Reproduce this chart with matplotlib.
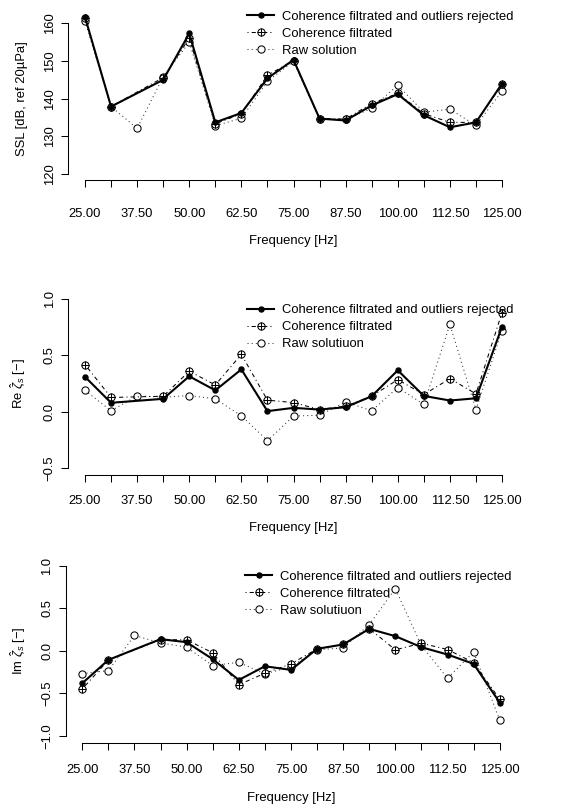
import numpy as np
import matplotlib.pyplot as plt
from matplotlib.legend_handler import HandlerTuple

plt.rcParams['font.family'] = ['Liberation Sans', 'DejaVu Sans']
plt.rcParams['mathtext.fontset'] = 'custom'
plt.rcParams['mathtext.rm'] = 'Liberation Sans'
plt.rcParams['mathtext.it'] = 'Liberation Sans:italic'

# frequencies (Hz)
freq = [25.0, 31.25, 37.5, 43.75, 50.0, 56.25, 62.5, 68.75, 75.0,
        81.25, 87.5, 93.75, 100.0, 106.25, 112.5, 118.75, 125.0]
xtick_labels = ['25.00', '', '37.50', '', '50.00', '', '62.50', '', '75.00',
                '', '87.50', '', '100.00', '', '112.50', '', '125.00']
nan = np.nan

# SSL [dB]
ssl_out = [161.7, 137.9, nan, 145.0, 157.3, 133.7, 136.2, 145.4, 150.3,
           134.7, 134.2, 138.2, 141.2, 135.6, 132.4, 133.7, 144.0]
ssl_filt = [161.3, 137.9, nan, 145.6, 156.0, 133.3, 136.0, 146.2, 150.1,
            134.7, 134.6, 138.7, 141.4, 136.0, 133.7, 133.7, 143.8]
ssl_raw = [160.6, 137.9, 132.1, 145.8, 155.0, 132.8, 134.8, 144.6, 149.9,
           134.6, 134.5, 137.4, 143.6, 136.4, 137.2, 132.9, 142.0]

# real part
re_out = [0.31, 0.08, nan, 0.115, 0.315, 0.19, 0.376, 0.006, 0.035,
          0.02, 0.041, 0.138, 0.368, 0.141, 0.10, 0.12, 0.754]
re_filt = [0.418, 0.127, nan, 0.138, 0.36, 0.238, 0.509, 0.103, 0.082,
           0.02, 0.05, 0.138, 0.285, 0.153, 0.294, 0.159, 0.88]
re_raw = [0.19, 0.009, 0.141, 0.13, 0.144, 0.115, -0.035, -0.256, -0.038,
          -0.03, 0.088, 0.009, 0.215, 0.065, 0.774, 0.02, 0.72]

# imaginary part
im_out = [-0.383, -0.108, nan, 0.136, 0.10, -0.10, -0.344, -0.183, -0.226,
          0.022, 0.073, 0.257, 0.171, 0.041, -0.045, -0.155, -0.61]
im_filt = [-0.45, -0.11, nan, 0.13, 0.128, -0.025, -0.40, -0.265, -0.155,
           0.022, 0.073, 0.26, 0.01, 0.088, 0.014, -0.14, -0.57]
im_raw = [-0.27, -0.234, 0.179, 0.092, 0.041, -0.175, -0.136, -0.273, -0.19,
          0.01, 0.033, 0.308, 0.729, 0.06, -0.324, -0.014, -0.816]

W, H = 568, 805
FS = 9.4
dotted = (0, (1, 3))
dotdash = (0, (1, 3, 4, 3))


def fig_rect(left, right, top, bottom):
    return [left / W, 1 - bottom / H, (right - left) / W, (bottom - top) / H]


def draw_panel(ax, y_out, y_filt, y_raw, raw_label, yticks, yfmt, ylabel,
               leg_px, xpad):
    x = np.array(freq)
    series = []
    for y in (y_raw, y_filt, y_out):
        y = np.array(y)
        m = ~np.isnan(y)
        series.append((x[m], y[m]))

    h_raw, = ax.plot(*series[0], ls=dotted, lw=0.75, color='#333333',
                     marker='o', mfc='white', mec='black', mew=0.75, ms=5.2,
                     clip_on=False)
    h_filt, = ax.plot(*series[1], ls=dotdash, lw=0.75, color='black',
                      marker='o', mfc='white', mec='black', mew=0.75, ms=5.2,
                      clip_on=False)
    h_plus, = ax.plot(*series[1], ls='none', marker='+', color='black',
                      mew=0.75, ms=5.2, clip_on=False)
    h_out, = ax.plot(*series[2], ls='-', lw=1.5, color='black',
                     marker='o', ms=3.6, mec='black', mfc='black',
                     clip_on=False)

    lo, hi = yticks[0], yticks[-1]
    pad = 0.04 * (hi - lo)
    ax.set_ylim(lo - pad, hi + pad)
    ax.set_xlim(21, 129)
    ax.set_yticks(yticks)
    ax.set_yticklabels([(yfmt % t).replace('-', '\u2212') for t in yticks])
    ax.set_xticks(freq)
    ax.set_xticklabels(xtick_labels)

    for s in ('top', 'right'):
        ax.spines[s].set_visible(False)
    ax.spines['left'].set_bounds(lo, hi)
    ax.spines['bottom'].set_bounds(freq[0], freq[-1])
    for s in ('left', 'bottom'):
        ax.spines[s].set_linewidth(0.75)

    ax.tick_params(axis='both', direction='out', length=5, width=0.75,
                   labelsize=FS)
    ax.tick_params(axis='x', pad=xpad)
    ax.tick_params(axis='y', pad=4, labelrotation=90)
    for lbl in ax.get_yticklabels():
        lbl.set_va('center')

    ax.set_xlabel('Frequency [Hz]', fontsize=FS, labelpad=11)
    ax.set_ylabel(ylabel, fontsize=FS)
    bb = ax.get_position()
    ax.yaxis.set_label_coords((28 / W - bb.x0) / bb.width, 0.5)

    ax.legend([h_out, (h_filt, h_plus), h_raw],
              ['Coherence filtrated and outliers rejected',
               'Coherence filtrated', raw_label],
              handler_map={tuple: HandlerTuple(ndivide=1, pad=0)},
              loc='upper left', frameon=False, fontsize=FS,
              borderpad=0, borderaxespad=0, handlelength=2.1,
              handletextpad=0.6, labelspacing=0.38,
              bbox_to_anchor=(leg_px[0] / W, 1 - leg_px[1] / H),
              bbox_transform=fig.transFigure)


fig = plt.figure(figsize=(W / 100, H / 100), dpi=100)

ax1 = fig.add_axes(fig_rect(68.3, 518.7, 17.3, 180.0))
draw_panel(ax1, ssl_out, ssl_filt, ssl_raw, 'Raw solution',
           [120, 130, 140, 150, 160], '%d', 'SSL [dB, ref 20\u00b5Pa]',
           (247, 10.5), 15)

ax2 = fig.add_axes(fig_rect(68.3, 518.7, 292.2, 475.0))
draw_panel(ax2, re_out, re_filt, re_raw, 'Raw solutiuon',
           [-0.5, 0.0, 0.5, 1.0], '%.1f', r'Re $\hat{\zeta}_s$ [$-$]',
           (247, 304), 9.5)

ax3 = fig.add_axes(fig_rect(65.6, 516.4, 558.9, 742.5))
draw_panel(ax3, im_out, im_filt, im_raw, 'Raw solutiuon',
           [-1.0, -0.5, 0.0, 0.5, 1.0], '%.1f', r'Im $\hat{\zeta}_s$ [$-$]',
           (245, 570.5), 10.7)

fig.savefig('out.png', dpi=100)
